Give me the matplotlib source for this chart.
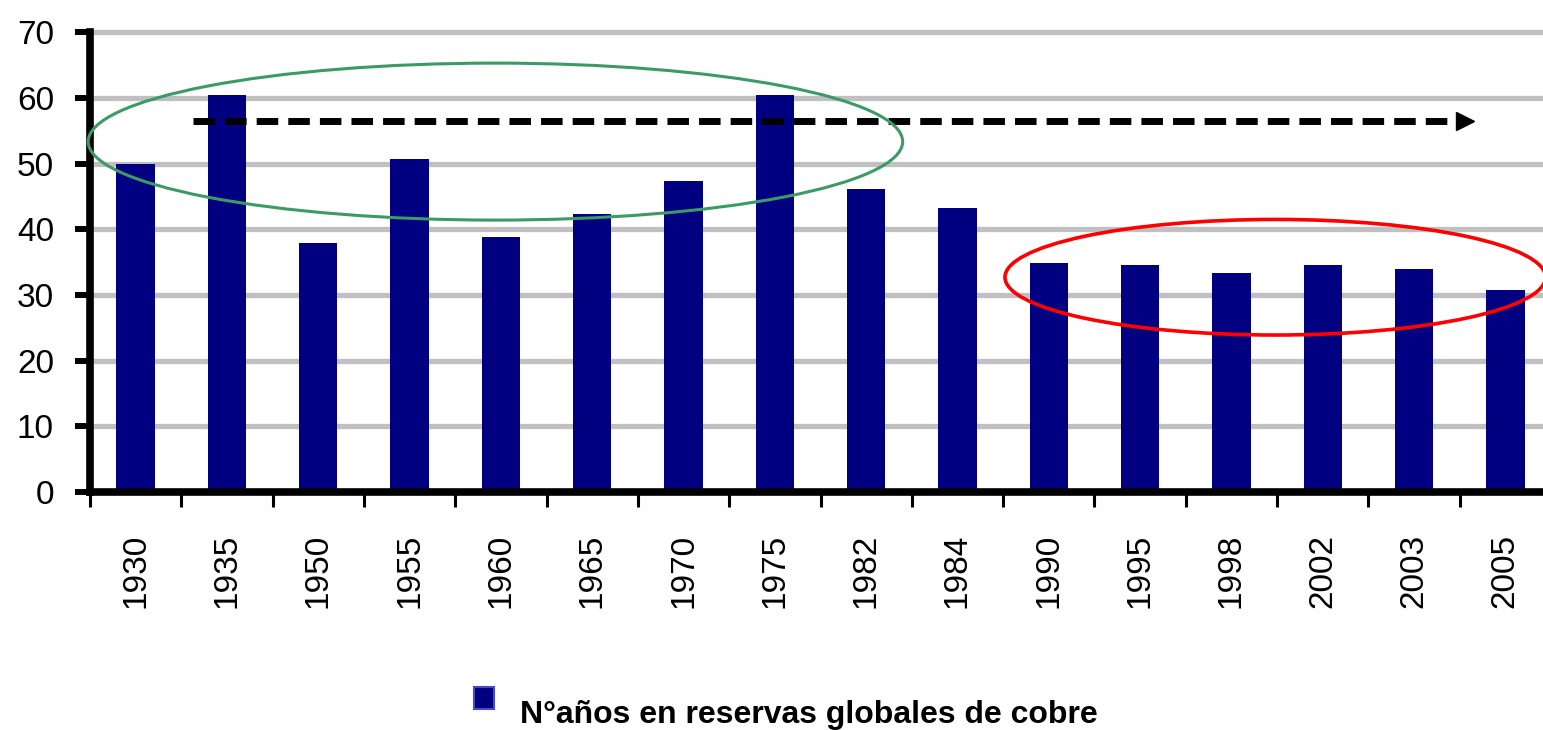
import numpy as np
import matplotlib
matplotlib.use("Agg")
import matplotlib.pyplot as plt
from matplotlib.patches import Ellipse, Rectangle

years = ["1930", "1935", "1950", "1955", "1960", "1965", "1970", "1975",
         "1982", "1984", "1990", "1995", "1998", "2002", "2003", "2005"]
values = [50.0, 60.4, 37.9, 50.7, 38.8, 42.3, 47.3, 60.4,
          46.1, 43.3, 34.8, 34.5, 33.3, 34.5, 33.9, 30.8]
series_label = "N°años en reservas globales de cobre"
y_ticks = [0, 10, 20, 30, 40, 50, 60, 70]

# annotation geometry (data coordinates)
trend_y = 56.5
trend_x = (0.63, 14.36)
green_ell = dict(xy=(3.94, 53.35), width=8.92, height=23.9)
red_ell = dict(xy=(12.48, 32.7), width=5.92, height=17.6)

W, H = 1543, 730
fig = plt.figure(figsize=(W / 100, H / 100), dpi=100)
fig.patch.set_facecolor("white")
ax = fig.add_axes([90 / W, 238 / H, (1551 - 90) / W, 0.6298])
ax.set_facecolor("white")

x = np.arange(len(years))
bars = ax.bar(x, values, width=0.42, color="#000080", zorder=3, label=series_label)

ax.set_xlim(-0.5, len(years) - 0.5)
ax.set_ylim(0, 70)
ax.set_yticks(y_ticks)
ax.set_yticklabels([str(v) for v in y_ticks], fontfamily="Liberation Sans", fontsize=24)
for v in y_ticks[1:]:
    ax.axhline(v, color="#c0c0c0", lw=3.8, zorder=1, clip_on=False)

ax.set_xticks(np.arange(-0.5, len(years)))
ax.set_xticklabels([])
ax.set_xticks(x, minor=True)
ax.set_xticklabels(years, minor=True, rotation=90, fontfamily="Liberation Sans",
                   fontsize=24)
ax.tick_params(axis="x", which="major", length=11, width=2.2, direction="out", color="black")
ax.tick_params(axis="x", which="minor", length=0, pad=30)
ax.tick_params(axis="y", length=11, width=4.3, pad=15, color="black")

for s in ["top", "right"]:
    ax.spines[s].set_visible(False)
for s in ["left", "bottom"]:
    ax.spines[s].set_linewidth(5.5)
    ax.spines[s].set_color("black")
    ax.spines[s].set_zorder(5)

# trend arrow
ax.plot(trend_x, [trend_y, trend_y], color="black", lw=5, ls=(0, (3.1, 1.45)),
        solid_capstyle="butt", dash_capstyle="butt", zorder=6, clip_on=False)
ax.plot([trend_x[1] + 0.2], [trend_y], marker=">", color="black", markersize=13,
        zorder=6, clip_on=False)

ax.add_patch(Ellipse(fill=False, edgecolor="#3c9a66", lw=2.2, zorder=7, clip_on=False, **green_ell))
ax.add_patch(Ellipse(fill=False, edgecolor="#ff0000", lw=2.6, zorder=7, clip_on=False, **red_ell))

# legend (drawn manually to match the offset square)
fig.patches.append(Rectangle((474 / W, 1 - 709 / H), 20 / W, 22 / H, transform=fig.transFigure,
                             facecolor=bars.patches[0].get_facecolor(), edgecolor="#4848c8",
                             lw=1.5, figure=fig))
fig.text(520 / W, 1 - 723 / H, bars.get_label(), ha="left", va="baseline",
         fontfamily="Liberation Sans", fontweight="bold", fontsize=23, color="black")

fig.savefig("out.png", dpi=100, facecolor="white")
